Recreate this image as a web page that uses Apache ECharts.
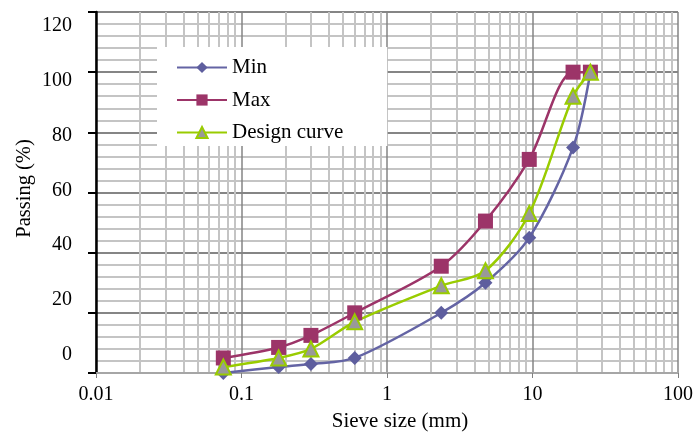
<!DOCTYPE html>
<html>
<head>
<meta charset="utf-8">
<script src="https://cdn.jsdelivr.net/npm/echarts@6/dist/echarts.min.js"></script>
<style>
  html, body { margin: 0; background: #fff; }
  #chart { width: 696px; height: 437px; }
</style>
</head>
<body>
<div id="chart"></div>
<script>
  // sieve sizes (mm) and passing (%)
  var sieveSizes = [0.075, 0.18, 0.3, 0.6, 2.36, 4.75, 9.5, 19, 25];
  var minPassing = [0, 2, 3, 5, 20, 30, 45, 75, 100];
  var maxPassing = [5, 8.5, 12.5, 20, 35.5, 50.5, 71, 100, 100];
  var designPassing = [2, 5, 8, 17, 29, 34, 53, 92, 100];

  // log grid minor lines and y tick labels
  var xMinorLines = [0.02, 0.03, 0.04, 0.05, 0.06, 0.07, 0.08, 0.09,
    0.2, 0.3, 0.4, 0.5, 0.6, 0.7, 0.8, 0.9,
    2, 3, 4, 5, 6, 7, 8, 9,
    20, 30, 40, 50, 60, 70, 80, 90];
  var yLabels = [0, 20, 40, 60, 80, 100, 120];

  var font = "'Liberation Serif', 'Times New Roman', serif";

  function pairs(ys) {
    return sieveSizes.map(function (x, i) { return [x, ys[i]]; });
  }

  var chart = echarts.init(document.getElementById('chart'));

  var option = {
    animation: false,
    textStyle: {fontFamily: font, color: '#000'},
    grid: {left: 96, right: 17, top: 12, bottom: 63},
    legend: {
      orient: 'vertical',
      left: 157,
      top: 47,
      backgroundColor: '#fff',
      padding: [10, 44, 3, 19],
      itemWidth: 50,
      itemHeight: 14,
      itemGap: 11.5,
      textStyle: {fontFamily: font, fontSize: 21, color: '#000'},
      data: ['Min', 'Max', 'Design curve']
    },
    xAxis: [
      {
        // minor vertical grid
        type: 'log',
        logBase: 10,
        min: 0.01,
        max: 100,
        position: 'bottom',
        axisLine: {show: false},
        axisLabel: {show: false},
        axisTick: {show: false, customValues: xMinorLines},
        splitLine: {show: true, lineStyle: {color: '#c4c4c4', width: 2}}
      },
      {
        type: 'log',
        logBase: 10,
        min: 0.01,
        max: 100,
        position: 'bottom',
        name: 'Sieve size (mm)',
        nameLocation: 'middle',
        nameGap: 38,
        nameTextStyle: {fontFamily: font, fontSize: 21, color: '#000', padding: [0, 0, 0, 26]},
        axisLine: {show: true, onZero: false, lineStyle: {color: '#a6a6a6', width: 2}},
        axisTick: {show: true, length: 5, lineStyle: {color: '#808080', width: 1}},
        axisLabel: {fontFamily: font, fontSize: 20, color: '#000', margin: 12},
        splitLine: {show: true, lineStyle: {color: '#858585', width: 1.5}}
      }
    ],
    yAxis: [
      {
        type: 'value',
        min: 0,
        max: 120,
        interval: 20,
        name: 'Passing (%)',
        nameLocation: 'middle',
        nameGap: 61,
        nameTextStyle: {fontFamily: font, fontSize: 20.5, color: '#000', padding: [0, 0, 0, 8]},
        axisLine: {show: true, lineStyle: {color: '#000', width: 2.5}},
        axisTick: {show: true, length: 8, lineStyle: {color: '#000', width: 2}},
        axisLabel: {show: false},
        minorTick: {show: false, splitNumber: 5},
        minorSplitLine: {show: true, lineStyle: {color: '#c4c4c4', width: 2}},
        splitLine: {show: true, lineStyle: {color: '#858585', width: 2}}
      },
      {
        // labels sit off the grid lines in the original
        type: 'value',
        position: 'left',
        min: -6.74,
        max: 125.2,
        axisLine: {show: false},
        axisTick: {show: false},
        splitLine: {show: false},
        axisLabel: {customValues: yLabels, fontFamily: font, fontSize: 20, color: '#000', margin: 24}
      }
    ],
    series: [
      {
        name: 'Min',
        type: 'line',
        xAxisIndex: 1,
        yAxisIndex: 0,
        smooth: 0.3,
        data: pairs(minPassing),
        symbol: 'diamond',
        symbolSize: 14,
        lineStyle: {color: '#6464a4', width: 2.5},
        itemStyle: {color: '#5e5e9e'}
      },
      {
        name: 'Max',
        type: 'line',
        xAxisIndex: 1,
        yAxisIndex: 0,
        smooth: 0.3,
        data: pairs(maxPassing),
        symbol: 'rect',
        symbolSize: 15,
        lineStyle: {color: '#9c3468', width: 2.5},
        itemStyle: {color: '#9c3468'}
      },
      {
        name: 'Design curve',
        type: 'line',
        xAxisIndex: 1,
        yAxisIndex: 0,
        smooth: 0.3,
        data: pairs(designPassing),
        symbol: 'triangle',
        symbolSize: 15,
        lineStyle: {color: '#99cc00', width: 2.5},
        itemStyle: {color: '#999999', borderColor: '#99cc00', borderWidth: 2}
      }
    ]
  };

  chart.setOption(option);
</script>
</body>
</html>
